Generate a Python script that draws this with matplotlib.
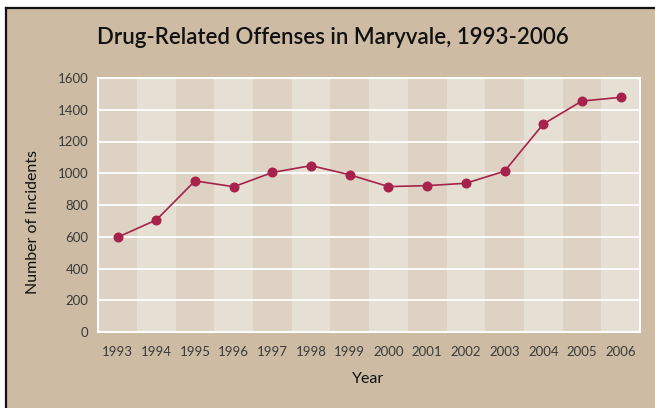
import matplotlib
matplotlib.use("Agg")
import matplotlib.pyplot as plt
from matplotlib.patches import Rectangle
from matplotlib.lines import Line2D

years = [1993, 1994, 1995, 1996, 1997, 1998, 1999, 2000, 2001, 2002, 2003, 2004, 2005, 2006]
incidents = [597, 706, 952, 915, 1005, 1048, 990, 916, 922, 937, 1013, 1310, 1455, 1478]
yticks = [0, 200, 400, 600, 800, 1000, 1200, 1400, 1600]

title = "Drug-Related Offenses in Maryvale, 1993-2006"
xlabel = "Year"
ylabel = "Number of Incidents"

BG = "#CDBBA4"
DARK = "#DDD2C3"
LIGHT = "#E6DFD4"
RED = "#A6224A"
TXT = "#3a3a3a"

plt.rcParams['font.family'] = ['Lato', 'DejaVu Sans']

fig = plt.figure(figsize=(6.55, 4.08), dpi=100, facecolor="white")
W, H = 655, 408
fig.patches.append(Rectangle((7 / W, 0), 1, 1 - 8 / H, transform=fig.transFigure,
                             facecolor=BG, edgecolor="none", zorder=-10))
fig.lines.append(Line2D([6 / W, 1], [1 - 7.5 / H, 1 - 7.5 / H], transform=fig.transFigure,
                        color="#111111", lw=1.6, zorder=-5))
fig.lines.append(Line2D([6 / W, 6 / W], [0, 1 - 7.5 / H], transform=fig.transFigure,
                        color="#111111", lw=1.6, zorder=-5))

ax = fig.add_axes([98.3 / W, 1 - 332 / H, (640 - 98.3) / W, (332 - 78) / H])
ax.set_zorder(1)
ax.set_facecolor(LIGHT)
for i, y in enumerate(years):
    ax.axvspan(y - 0.5, y + 0.5, color=DARK if i % 2 == 0 else LIGHT, lw=0, zorder=0)

ax.set_xlim(years[0] - 0.5, years[-1] + 0.5)
ax.set_ylim(0, 1600)
ax.set_yticks(yticks)
ax.set_xticks(years)
ax.set_xticklabels([str(y) for y in years])
ax.grid(axis="y", color="white", lw=1.3, zorder=1)
ax.set_axisbelow(False)
for s in ax.spines.values():
    s.set_color("white")
    s.set_linewidth(1.5)

ax.plot(years, incidents, color=RED, lw=1.2, marker="o", ms=6.2, zorder=3)

ax.tick_params(length=0, labelsize=9.5, colors=TXT)
ax.tick_params(axis="x", pad=10)
ax.tick_params(axis="y", pad=7)

fig.text(368 / W, 1 - 379 / H, xlabel, ha="center", va="center", fontsize=11.5,
         color="#111111")
fig.text(33 / W, 1 - 222 / H, ylabel, ha="center", va="center", rotation=90,
         fontsize=11.5, color="#111111")

fig.text(333 / W, 1 - 38 / H, title, ha="center", va="center", fontsize=16,
         fontweight="semibold", color="#111111")

fig.savefig("out.png", dpi=100, facecolor=fig.get_facecolor())
